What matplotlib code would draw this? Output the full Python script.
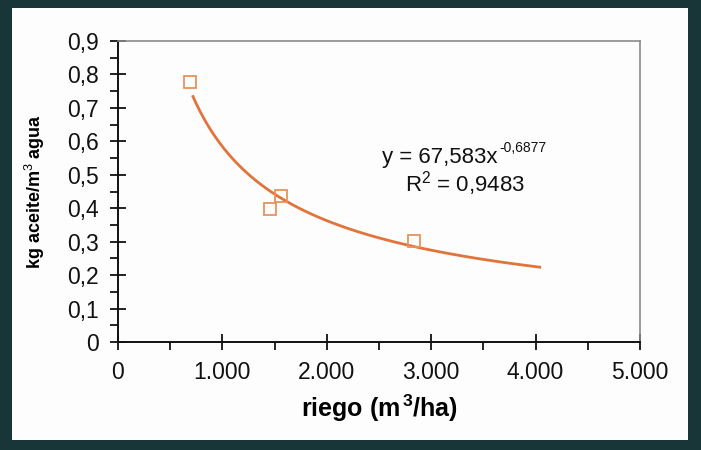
import matplotlib
matplotlib.use("Agg")
import matplotlib.pyplot as plt
import numpy as np
from matplotlib.ticker import MultipleLocator
from matplotlib.patches import Rectangle

plt.rcParams['font.family'] = ['Liberation Sans', 'DejaVu Sans']
plt.rcParams['mathtext.fontset'] = 'custom'
plt.rcParams['mathtext.rm'] = 'Liberation Sans'
plt.rcParams['mathtext.it'] = 'Liberation Sans'
plt.rcParams['mathtext.bf'] = 'Liberation Sans:bold'

# data
riego = [690, 1456, 1561, 2835]
kg_agua = [0.777, 0.398, 0.437, 0.302]
coef_a = 67.583
coef_b = -0.6877
r2 = 0.9483
fit_range = [718, 4040]
x_ticks = [0, 1000, 2000, 3000, 4000, 5000]
x_tick_labels = ["0", "1.000", "2.000", "3.000", "4.000", "5.000"]
y_ticks = [0, 0.1, 0.2, 0.3, 0.4, 0.5, 0.6, 0.7, 0.8, 0.9]
y_tick_labels = ["0", "0,1", "0,2", "0,3", "0,4", "0,5", "0,6", "0,7", "0,8", "0,9"]

fig = plt.figure(figsize=(7.01, 4.50), dpi=100)
fig.patch.set_facecolor('#183638')
bg = Rectangle((12/701, 1-440/450), (688-12)/701, (440-8)/450,
               transform=fig.transFigure, facecolor='#fdfdfd',
               edgecolor='none', zorder=-10)
fig.add_artist(bg)

ax = fig.add_axes([118/701, 1-342/450, (640-118)/701, (342-41)/450])
ax.set_zorder(1)
ax.set_facecolor('#fdfdfd')

xf = np.linspace(fit_range[0], fit_range[1], 200)
yf = coef_a * xf ** coef_b
ax.plot(xf, yf, color='#e0743a', lw=2.0, zorder=2)
ax.plot(riego, kg_agua, linestyle='none', marker='s', markersize=8,
        markerfacecolor='none', markeredgecolor='#e8925a', markeredgewidth=1.3, zorder=3)

ax.set_xlim(0, 5000)
ax.set_ylim(0, 0.9)
ax.set_xticks(x_ticks)
ax.set_xticklabels(x_tick_labels)
ax.set_yticks(y_ticks)
ax.set_yticklabels(y_tick_labels)
ax.xaxis.set_minor_locator(MultipleLocator(500))
ax.yaxis.set_minor_locator(MultipleLocator(0.05))

ax.tick_params(axis='both', which='major', direction='inout', length=12, width=1.3,
               labelsize=16.5, colors='#111111')
ax.tick_params(axis='both', which='minor', direction='out', length=6, width=1.2)
ax.tick_params(axis='x', which='major', pad=8)
ax.tick_params(axis='y', which='major', pad=8)

for s in ['left', 'bottom']:
    ax.spines[s].set_color('#111111')
    ax.spines[s].set_linewidth(1.4)
for s in ['top', 'right']:
    ax.spines[s].set_color('#8a8a8a')
    ax.spines[s].set_linewidth(1.2)

ax.set_xlabel(r"riego (m$^{\,\mathbf{3}}$/ha)", fontsize=18, fontweight='bold', labelpad=6)
ax.set_ylabel("kg aceite/m$^{3}$ agua", fontsize=13, fontweight='bold', labelpad=14)

t1 = ax.text(2529, 0.553, "y = 67,583x", fontsize=16, ha='left', va='center', color='#111111')
ax.annotate("-0,6877", xy=(1, 0.62), xycoords=t1, xytext=(1, 0), textcoords='offset points',
            fontsize=10, ha='left', va='bottom', color='#111111')
ax.text(3324, 0.475, "R$^{2}$ = 0,9483", fontsize=16, ha='center', va='center', color='#111111')

fig.savefig("out.png", dpi=100, facecolor=fig.get_facecolor())
